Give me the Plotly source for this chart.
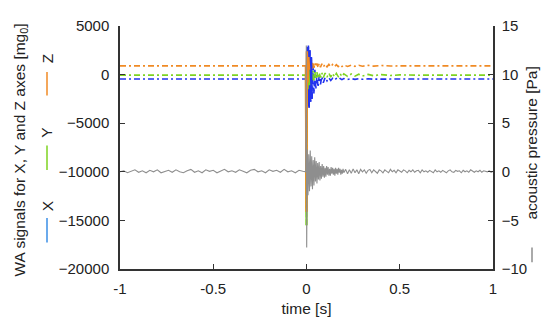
import numpy as np
import plotly.graph_objects as go

# ---- acceleration signals (mg0) ----
t_acc = [-1.0, -0.5, -0.003, 0.0, 0.002, 0.006, 0.010, 0.014, 0.018, 0.022, 0.026,
         0.030, 0.035, 0.040, 0.045, 0.050, 0.056, 0.062, 0.068, 0.075, 0.082, 0.090,
         0.10, 0.11, 0.12, 0.13, 0.14, 0.15, 0.16, 0.17, 0.18, 0.19, 0.20, 0.22, 0.24,
         0.26, 0.28, 0.30, 0.33, 0.36, 0.40, 0.45, 0.50, 0.60, 0.70, 0.80, 0.90, 1.0]
acc_z = [900, 900, 900, -14100, 2400, -800, 1800, 500, 1700, 300, 1500,
         600, 1300, 700, 1200, 800, 1150, 700, 1150, 750, 1100, 780,
         1080, 800, 1050, 800, 1040, 810, 1020, 820, 1000, 830, 990, 840, 980,
         850, 960, 860, 950, 870, 930, 890, 910, 900, 900, 900, 900, 900]
acc_y = [-50, -50, -50, -15500, 600, -1500, 900, -1100, 700, -900, 500,
         -700, 400, -600, 300, -500, 250, -400, 200, -300, 200, -300,
         150, -250, 150, -250, 120, -220, 120, -200, 100, -200, 80, -180, 60,
         -160, 40, -140, 20, -120, 0, -90, -30, -60, -50, -50, -50, -50]
acc_x = [-450, -450, -450, -3000, 2800, -3200, 3000, -3400, 2500, -2800, 1800,
         -2500, 1000, -2000, 500, -1500, 0, -1300, -100, -1000, -200, -850,
         -300, -650, -350, -600, -380, -550, -400, -520, -400, -520, -410, -500, -420,
         -490, -420, -480, -430, -470, -440, -460, -450, -450, -450, -450, -450, -450]

# ---- acoustic pressure (Pa) ----
p_pre = [0.0, 0.1, -0.1, 0.05, 0.2, -0.05, 0.1, -0.1, 0.15, 0.0, 0.2, -0.1, 0.05, 0.15,
         -0.05, 0.2, 0.0, -0.1, 0.1, 0.25, -0.05, 0.1, -0.1, 0.2, 0.05, 0.15, -0.1, 0.1,
         0.25, 0.0, 0.1, -0.05, 0.2, 0.05, -0.1, 0.15, 0.25, 0.0, 0.1, -0.1, 0.2, 0.05,
         0.15, -0.05, 0.25, 0.0, 0.1, -0.1, 0.15, 0.05]
p_hit_t = [-0.004, -0.001, 0.001]
p_hit = [0.0, 13.0, -7.8]
p_early = [2.3, -2.4, 1.8, -2.0, 2.2, -1.5, 1.6, -1.8, 1.2, -1.4, 1.5, -1.0, 1.1, -1.2,
           0.9, -0.8, 1.0, -0.9, 0.6, -0.7, 0.8, -0.5, 0.6, -0.6, 0.4, -0.5, 0.6, -0.3,
           0.5, -0.4, 0.3, -0.4, 0.5, -0.2, 0.4, -0.3, 0.3, -0.4, 0.4, -0.2, 0.3, -0.3,
           0.4, -0.1, 0.3, -0.3, 0.2, -0.2, 0.3, -0.1]
p_late = [0.25, -0.2, 0.2, -0.15, 0.3, -0.1, 0.2, -0.2, 0.25, 0.0, 0.2, -0.15, 0.15,
          0.25, -0.1, 0.2, 0.0, -0.15, 0.2, 0.1, -0.1, 0.2, 0.05, -0.1, 0.25, 0.0, 0.15,
          -0.1, 0.2, 0.05, -0.05, 0.2, 0.1, -0.1, 0.15, 0.0, 0.2, -0.05, 0.1, 0.15, -0.1,
          0.2, 0.0, 0.1, -0.05, 0.15, 0.05, -0.1, 0.2, 0.0, 0.1, -0.05, 0.15, 0.05, -0.1,
          0.1, 0.2, 0.0, -0.05, 0.15, 0.05, 0.1, -0.1, 0.15, 0.0, 0.1, -0.05, 0.2, 0.05,
          -0.05, 0.1, 0.0, 0.15, -0.05, 0.1, 0.05, 0.0, 0.1, -0.05, 0.05]

t_pre = np.round(-1.0 + 0.02 * np.arange(len(p_pre)), 4)
t_early = np.round(0.004 * (1 + np.arange(len(p_early))), 4)
t_late = np.round(0.21 + 0.01 * np.arange(len(p_late)), 4)
t_p = list(t_pre) + p_hit_t + list(t_early) + list(t_late)
p_all = p_pre + p_hit + p_early + p_late

x_ticks = [-1, -0.5, 0, 0.5, 1]
x_ticklabels = ["-1", "-0.5", "0", "0.5", "1"]

ORANGE = "#f08a24"
GREEN = "#7ed321"
BLUE = "#2233ee"
GRAY = "#8e8e8e"
AXC = "#333333"
FONT = "Liberation Sans, Arial, sans-serif"

fig = go.Figure()
fig.add_trace(go.Scatter(x=t_p, y=p_all, yaxis="y2", mode="lines",
                         line=dict(color=GRAY, width=1.1)))
dash = "6px,3px,2px,3px"
fig.add_trace(go.Scatter(x=t_acc, y=acc_x, mode="lines",
                         line=dict(color=BLUE, width=1.6, dash=dash)))
fig.add_trace(go.Scatter(x=t_acc, y=acc_y, mode="lines",
                         line=dict(color=GREEN, width=1.6, dash=dash)))
fig.add_trace(go.Scatter(x=t_acc, y=acc_z, mode="lines",
                         line=dict(color=ORANGE, width=1.6, dash=dash)))
# the impact spike drawn solid
fig.add_trace(go.Scatter(x=t_acc[2:12], y=acc_x[2:12], mode="lines",
                         line=dict(color=BLUE, width=1.6)))
fig.add_trace(go.Scatter(x=t_acc[2:8], y=acc_y[2:8], mode="lines",
                         line=dict(color=GREEN, width=2.2)))
fig.add_trace(go.Scatter(x=t_acc[2:8], y=acc_z[2:8], mode="lines",
                         line=dict(color=ORANGE, width=2.4)))

L, R, T, B = 120, 57, 26, 53
W, H = 550, 327
pw, ph = W - L - R, H - T - B


def px(x):
    return (x - L) / pw


def py(y):
    return (H - B - y) / ph


annotations = [
    dict(text="WA signals for X, Y and Z axes [mg<sub>0</sub>]", x=px(20), y=py(153),
         textangle=-90, font=dict(size=15.5, color="#222")),
    dict(text="Z", x=px(47), y=py(60), textangle=-90, font=dict(size=15.5, color="#222")),
    dict(text="Y", x=px(47), y=py(135), textangle=-90, font=dict(size=15.5, color="#222")),
    dict(text="X", x=px(47), y=py(210), textangle=-90, font=dict(size=15.5, color="#222")),
    dict(text="acoustic pressure [Pa]", x=px(532), y=py(146), textangle=-90,
         font=dict(size=15.5, color="#222")),
]
for a in annotations:
    a.update(xref="paper", yref="paper", showarrow=False, xanchor="center", yanchor="middle")

shapes = [
    dict(type="line", x0=px(47), x1=px(47), y0=py(73), y1=py(97), line=dict(color=ORANGE, width=1.5)),
    dict(type="line", x0=px(47), x1=px(47), y0=py(148), y1=py(173), line=dict(color=GREEN, width=1.5)),
    dict(type="line", x0=px(47), x1=px(47), y0=py(222), y1=py(247), line=dict(color="#3a8ee6", width=1.5)),
    dict(type="line", x0=px(532), x1=px(532), y0=py(252), y1=py(267), line=dict(color=GRAY, width=1.5)),
]
for s in shapes:
    s.update(xref="paper", yref="paper")

fig.update_layout(
    width=W, height=H, margin=dict(l=L, r=R, t=T, b=B),
    paper_bgcolor="white", plot_bgcolor="white", showlegend=False,
    font=dict(family=FONT, size=15, color="#222"),
    annotations=annotations, shapes=shapes,
    xaxis=dict(range=[-1, 1], tickvals=x_ticks, ticktext=x_ticklabels,
               showgrid=False, zeroline=False, showline=True, linecolor=AXC, linewidth=1.5,
               ticks="inside", ticklen=5, tickcolor=AXC, tickwidth=1.2, ticklabelstandoff=5,
               title=dict(text="time [s]", standoff=7, font=dict(size=15.5))),
    yaxis=dict(range=[-20000, 5000], dtick=5000, tickformat="d", showgrid=False,
               zeroline=False, showline=True, linecolor=AXC, linewidth=1.5, ticks="inside",
               ticklen=5, tickcolor=AXC, tickwidth=1.2, ticklabelstandoff=6),
    yaxis2=dict(range=[-10, 15], dtick=5, tickformat="d", overlaying="y", side="right",
                showgrid=False, zeroline=False, showline=True, linecolor=AXC, linewidth=1.5,
                ticks="inside", ticklen=5, tickcolor=AXC, tickwidth=1.2, ticklabelstandoff=4),
)

fig.write_html("out.html", config={"displayModeBar": False},
               post_script="document.body.style.margin='0';document.body.style.overflow='hidden';")
